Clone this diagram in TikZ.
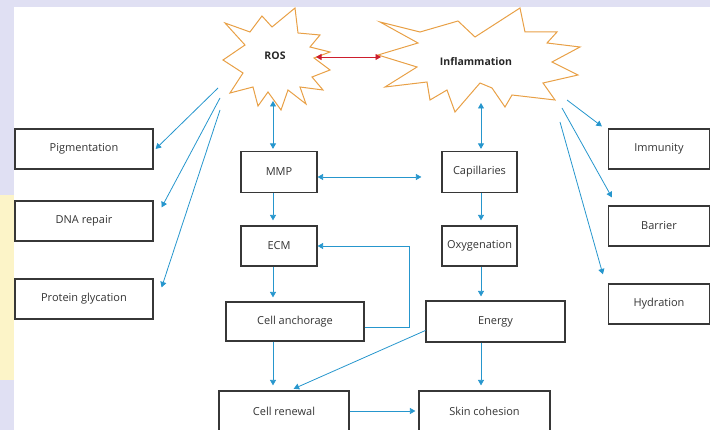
\documentclass[tikz,border=0pt]{standalone}
\usepackage{fontspec}
\setmainfont{Open Sans}
\usetikzlibrary{arrows.meta}

\definecolor{arrowblue}{RGB}{38,150,205}
\definecolor{starorange}{RGB}{232,160,70}
\definecolor{linkred}{RGB}{205,30,45}
\definecolor{boxgray}{RGB}{55,55,55}
\definecolor{marklilac}{RGB}{224,224,243}
\definecolor{markyellow}{RGB}{252,244,200}

\tikzset{
  box/.style={draw=boxgray, line width=1.2pt, minimum height=40pt, text=black!80,
    font=\fontsize{11}{13}\selectfont},
  burstlabel/.style={text=black!85, font=\fontsize{10.5}{12}\selectfont\bfseries},
  burstline/.style={draw=starorange, line width=1pt, line join=miter},
  arr/.style={draw=arrowblue, line width=0.8pt, -{Triangle[width=6pt,length=5.5pt]}},
  dblarr/.style={arr, {Triangle[width=6pt,length=5.5pt]}-{Triangle[width=6pt,length=5.5pt]}}
}

\begin{document}
\begin{tikzpicture}[x=1pt, y=-1pt]

\useasboundingbox (0,0) rectangle (710,430);

% watermark edges
\fill[marklilac] (0,0) rectangle (710,7);
\fill[marklilac] (0,0) rectangle (14,430);
\fill[markyellow] (0,195) rectangle (14,380);

% stars
\draw[burstline] (223,60) -- (245,45) -- (225,23) -- (250,32) -- (262,16) -- (272,27)
  -- (295,8) -- (298,33) -- (320,35) -- (310,47) -- (330,52) -- (314,58)
  -- (330,70) -- (312,77) -- (323,90) -- (300,87) -- (306,104) -- (288,90)
  -- (281,110) -- (268,92) -- (258,106) -- (253,87) -- (230,93) -- (243,73) -- cycle;
\draw[burstline] (380,22) -- (420,32) -- (458,21) -- (475,37) -- (520,8) -- (525,32)
  -- (557,32) -- (547,43) -- (580,47) -- (552,62) -- (578,75) -- (543,83)
  -- (555,100) -- (512,95) -- (505,107) -- (492,88) -- (480,83) -- (455,112)
  -- (447,90) -- (430,100) -- (427,82) -- (385,87) -- (417,67) -- (378,55)
  -- (418,43) -- cycle;
\node[burstlabel] (ros) at (275,56) {ROS};
\node[burstlabel] (infl) at (476,62) {Inflammation};

% left boxes
\node[box, minimum width=138pt] (pig) at (84,149) {Pigmentation};
\node[box, minimum width=138pt] (dna) at (84,221) {DNA repair};
\node[box, minimum width=138pt] (prot) at (84,299) {Protein glycation};

% right boxes
\node[box, minimum width=101pt] (imm) at (659,149) {Immunity};
\node[box, minimum width=101pt] (bar) at (659,226) {Barrier};
\node[box, minimum width=101pt] (hyd) at (659,304) {Hydration};

% middle
\node[box, minimum width=76pt, minimum height=41pt] (mmp) at (279,172) {MMP};
\node[box, minimum width=75pt, minimum height=41pt] (cap) at (479.5,172) {Capillaries};
\node[box, minimum width=76pt] (ecm) at (279,246) {ECM};
\node[box, minimum width=75pt, inner sep=1pt] (oxy) at (479.5,246) {Oxygenation};
\node[box, minimum width=138pt, minimum height=39pt] (anch) at (295,321.5) {Cell anchorage};
\node[box, minimum width=139pt, minimum height=41pt] (energy) at (495.5,321.5) {Energy};
\node[box, minimum width=130pt] (renew) at (284,411) {Cell renewal};
\node[box, minimum width=131pt] (skin) at (484.5,411) {Skin cohesion};

% ends at the stars
\coordinate (rosr) at (316,57);
\coordinate (infll) at (381,57);
\coordinate (rosb) at (273,101);
\coordinate (inflb) at (481,103);
\coordinate (r1) at (218,88);
\coordinate (r2) at (220,98);
\coordinate (r3) at (220,110);
\coordinate (i1) at (567,100);
\coordinate (i2) at (562,108);
\coordinate (i3) at (560,122);
\coordinate (lcol) at (273,0);
\coordinate (rcol) at (481,0);

% connections
\draw[dblarr, draw=linkred] (rosr) -- (infll);
\draw[dblarr, shorten >=2pt] (rosb) -- (rosb |- mmp.north);
\draw[dblarr, shorten >=2pt] (inflb) -- (inflb |- cap.north);
\draw[dblarr] ([yshift=-5pt]mmp.east) -- ([xshift=-20pt, yshift=-5pt]cap.west);

\draw[arr] (r1) -- ([xshift=2pt]pig.east);
\draw[arr] (r2) -- ([xshift=8pt, yshift=-7pt]dna.north east);
\draw[arr] (r3) -- ([xshift=8pt, yshift=-9pt]prot.north east);

\draw[arr] (i1) -- ([xshift=-6pt, yshift=2pt]imm.north west);
\draw[arr] (i2) -- ([xshift=4pt, yshift=8pt]bar.north west);
\draw[arr] (i3) -- ([xshift=-5pt, yshift=9pt]hyd.north west);

\draw[arr, shorten >=5pt] (mmp.south -| lcol) -- (ecm.north -| lcol);
\draw[arr, shorten >=4pt] (ecm.south -| lcol) -- (anch.north -| lcol);
\draw[arr, shorten >=5pt] (anch.south -| lcol) -- (renew.north -| lcol);
\draw[arr] ([yshift=-6pt]anch.east) -- ++(45,0) |- (ecm.east);

\draw[arr, shorten >=5pt] (cap.south -| rcol) -- (oxy.north -| rcol);
\draw[arr, shorten >=4pt] (oxy.south -| rcol) -- (energy.north -| rcol);
\draw[arr, shorten >=5pt] (energy.south -| rcol) -- (skin.north -| rcol);
\draw[arr, shorten >=4pt] ([yshift=-9pt]energy.west) -- ([xshift=6pt]renew.north);
\draw[arr, shorten >=3pt] (renew.east) -- (skin.west);

\end{tikzpicture}
\end{document}
